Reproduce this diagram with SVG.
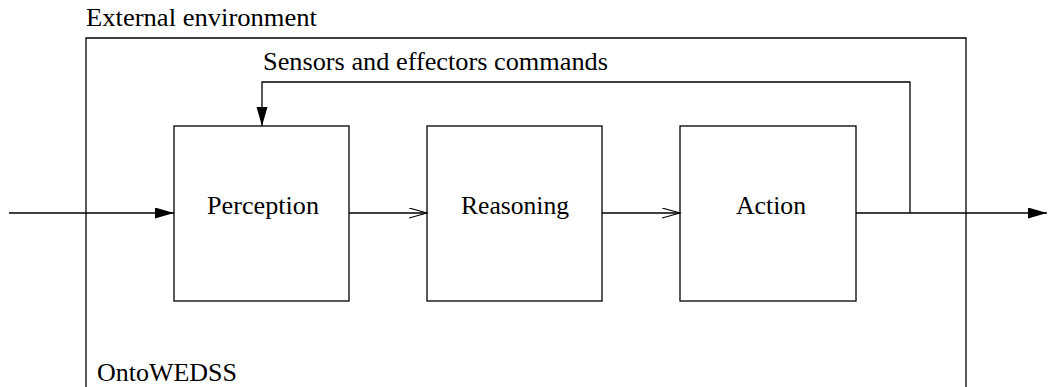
<svg xmlns="http://www.w3.org/2000/svg" width="1048" height="387" viewBox="0 0 1048 387">
<style>
.box{fill:#fff;stroke:#000;stroke-width:1.3}
.ln{fill:none;stroke:#000;stroke-width:1.3}
text{font-family:"Liberation Serif","Times New Roman",serif;font-size:26px;fill:#000}
.c{text-anchor:middle}
</style>
<defs>
<marker id="fill" markerUnits="userSpaceOnUse" markerWidth="20" markerHeight="12" refX="19" refY="5.5" orient="auto">
<path d="M0,0 L19,5.5 L0,11 Z" fill="#000"/>
</marker>
<marker id="open" markerUnits="userSpaceOnUse" markerWidth="20" markerHeight="12" refX="18" refY="5.5" orient="auto">
<path d="M0,0.5 L18,5.5 L0,10.5" fill="none" stroke="#000" stroke-width="1.2"/>
</marker>
</defs>
<g id="environment">
<text x="86" y="26" textLength="231" lengthAdjust="spacingAndGlyphs">External environment</text>
</g>
<g id="ontowedss">
<path class="ln" d="M86,390 V38 H966 V390"/>
<text x="97" y="381" textLength="140" lengthAdjust="spacingAndGlyphs">OntoWEDSS</text>
</g>
<g id="perception">
<rect class="box" x="174" y="126" width="175" height="175"/>
<text class="c" x="263" y="214" textLength="112" lengthAdjust="spacingAndGlyphs">Perception</text>
</g>
<g id="reasoning">
<rect class="box" x="427" y="126" width="175" height="175"/>
<text class="c" x="515" y="214" textLength="108" lengthAdjust="spacingAndGlyphs">Reasoning</text>
</g>
<g id="action">
<rect class="box" x="680" y="126" width="176" height="175"/>
<text class="c" x="771" y="214" textLength="70" lengthAdjust="spacingAndGlyphs">Action</text>
</g>
<g id="connectors">
<line class="ln" x1="9" y1="213" x2="174" y2="213" marker-end="url(#fill)"/>
<line class="ln" x1="349" y1="213" x2="427" y2="213" marker-end="url(#open)"/>
<line class="ln" x1="602" y1="213" x2="680" y2="213" marker-end="url(#open)"/>
<line class="ln" x1="856" y1="213" x2="1047" y2="213" marker-end="url(#fill)"/>
<path class="ln" d="M910,213 V82 H262 V126" marker-end="url(#fill)"/>
<text x="263" y="70" textLength="345" lengthAdjust="spacingAndGlyphs">Sensors and effectors commands</text>
</g>
</svg>
